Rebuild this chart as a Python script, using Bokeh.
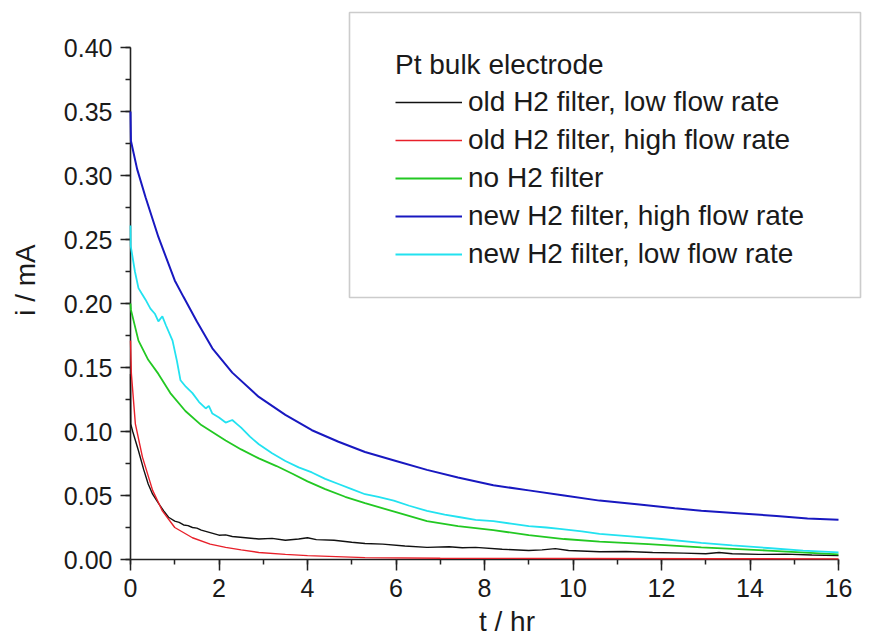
from bokeh.plotting import figure
from bokeh.models import (Legend, LegendItem, BoxAnnotation, SingleIntervalTicker,
                          NumeralTickFormatter, Range1d)
from bokeh.embed import file_html
from bokeh.resources import INLINE

# ---------------- data ----------------
t_black = [0, 0.005, 0.05, 0.18, 0.3, 0.4, 0.5, 0.63, 0.75, 0.86, 1.0, 1.1, 1.2, 1.3, 1.4, 1.5,
           1.6, 1.8, 2.0, 2.15, 2.3, 2.6, 2.9, 3.2, 3.5, 3.8, 4.0, 4.2, 4.6, 5.0, 5.3, 5.7, 6.2,
           6.7, 7.2, 7.5, 7.8, 8.4, 9.0, 9.3, 9.6, 9.9, 10.6, 11.2, 11.8, 12.5, 13.0, 13.3, 13.6,
           14.2, 14.8, 15.4, 16.0]
i_black = [0.145, 0.106, 0.100, 0.085, 0.070, 0.059, 0.051, 0.044, 0.038, 0.033, 0.030, 0.029,
           0.027, 0.0265, 0.025, 0.0245, 0.023, 0.021, 0.019, 0.0192, 0.018, 0.017, 0.016,
           0.0165, 0.015, 0.016, 0.017, 0.0155, 0.015, 0.0135, 0.0125, 0.012, 0.0105, 0.0095,
           0.010, 0.0092, 0.0095, 0.008, 0.007, 0.0075, 0.0085, 0.007, 0.006, 0.0062, 0.0055,
           0.005, 0.0045, 0.0055, 0.0045, 0.004, 0.0042, 0.0035, 0.003]

t_red = [0, 0.02, 0.11, 0.27, 0.5, 0.72, 1.0, 1.4, 1.8, 2.15, 2.5, 2.9, 3.5, 4.0, 5.3, 7.0,
         10.0, 13.0, 16.0]
i_red = [0.171, 0.145, 0.106, 0.080, 0.054, 0.038, 0.025, 0.017, 0.012, 0.0095, 0.0075, 0.0055,
         0.004, 0.003, 0.0015, 0.001, 0.0008, 0.0006, 0.0005]

t_green = [0, 0.01, 0.18, 0.4, 0.63, 0.9, 1.24, 1.6, 2.15, 2.5, 2.9, 3.3, 3.66, 4.0, 4.4, 4.85,
           5.3, 6.0, 6.7, 7.4, 8.2, 9.0, 9.8, 10.6, 11.7, 12.9, 14.4, 16.0]
i_green = [0.200, 0.195, 0.171, 0.156, 0.145, 0.130, 0.116, 0.105, 0.093, 0.086, 0.079, 0.073,
           0.067, 0.061, 0.055, 0.049, 0.044, 0.037, 0.030, 0.026, 0.023, 0.019, 0.016, 0.014,
           0.012, 0.0095, 0.007, 0.004]

t_blue = [0, 0.01, 0.15, 0.34, 0.63, 1.0, 1.2, 1.5, 1.85, 2.3, 2.9, 3.5, 4.1, 4.7, 5.3, 6.0,
          6.7, 7.4, 8.2, 9.0, 9.8, 10.6, 11.5, 12.3, 12.9, 13.8, 14.6, 15.3, 16.0]
i_blue = [0.350, 0.327, 0.305, 0.283, 0.252, 0.218, 0.205, 0.186, 0.165, 0.146, 0.127, 0.113,
          0.101, 0.092, 0.084, 0.077, 0.070, 0.064, 0.058, 0.054, 0.050, 0.046, 0.043, 0.040,
          0.038, 0.036, 0.034, 0.032, 0.031]

t_cyan = [0, 0.005, 0.1, 0.18, 0.25, 0.34, 0.45, 0.55, 0.63, 0.72, 0.8, 0.95, 1.05, 1.13, 1.25,
          1.4, 1.55, 1.7, 1.77, 1.85, 2.0, 2.15, 2.3, 2.4, 2.5, 2.7, 2.9, 3.2, 3.5, 3.8, 4.1,
          4.4, 4.7, 5.0, 5.3, 5.6, 5.95, 6.3, 6.7, 7.1, 7.45, 7.8, 8.2, 8.6, 9.0, 9.4, 9.7,
          10.2, 10.6, 11.3, 12.0, 12.9, 13.6, 14.4, 15.2, 16.0]
i_cyan = [0.261, 0.245, 0.225, 0.212, 0.208, 0.203, 0.196, 0.192, 0.186, 0.190, 0.183, 0.171,
          0.155, 0.140, 0.135, 0.130, 0.123, 0.118, 0.120, 0.114, 0.111, 0.107, 0.109, 0.106,
          0.103, 0.096, 0.090, 0.083, 0.077, 0.072, 0.068, 0.063, 0.059, 0.055, 0.051, 0.049,
          0.046, 0.042, 0.038, 0.035, 0.033, 0.031, 0.030, 0.028, 0.026, 0.025, 0.024, 0.022,
          0.020, 0.018, 0.016, 0.013, 0.011, 0.009, 0.007, 0.0055]

labels = ["old H2 filter, low flow rate", "old H2 filter, high flow rate", "no H2 filter",
          "new H2 filter, high flow rate", "new H2 filter, low flow rate"]
legend_title = "Pt bulk electrode"
x_label = "t / hr"
y_label = "i / mA"

# ---------------- layout ----------------
W, H = 883, 639
FRAME_L, FRAME_B = 130, 80          # canvas borders
PX_T = 44.25                         # pixels per hour
PX_I = 1280.0                        # pixels per mA
X_END = (W - FRAME_L) / PX_T
Y_END = (H - FRAME_B) / PX_I

FONT = "Liberation Sans"
TXT = "#1a1a1a"

p = figure(width=W, height=H, x_range=Range1d(0, X_END), y_range=Range1d(0, Y_END),
           output_backend="svg", toolbar_location=None,
           min_border_left=FRAME_L, min_border_right=0, min_border_top=0,
           min_border_bottom=FRAME_B)
p.outline_line_color = None
p.grid.visible = False
p.background_fill_color = "white"

series = [(t_black, i_black, "#111111", 1.4), (t_red, i_red, "#e8202a", 1.4),
          (t_green, i_green, "#22c822", 1.8), (t_blue, i_blue, "#1818c0", 2.0),
          (t_cyan, i_cyan, "#22e2f0", 1.8)]
rends = []
for t, i, c, w in series:
    r = p.line(t, i, line_color=c, line_width=w)
    r.level = "annotation"
    rends.append(r)

for ax in (p.xaxis[0], p.yaxis[0]):
    ax.axis_line_color = "#222222"
    ax.axis_line_width = 1.6
    ax.major_tick_line_color = "#222222"
    ax.minor_tick_line_color = "#222222"
    ax.major_tick_line_width = 1.5
    ax.minor_tick_line_width = 1.5
    ax.major_tick_in = 0
    ax.minor_tick_in = 0
    ax.major_label_text_font = FONT
    ax.major_label_text_font_size = "25px"
    ax.major_label_text_color = TXT
    ax.axis_label_text_font = FONT
    ax.axis_label_text_font_size = "28px"
    ax.axis_label_text_font_style = "normal"
    ax.axis_label_text_color = TXT

xa = p.xaxis[0]
xa.bounds = (0, 16)
xa.ticker = SingleIntervalTicker(interval=2, num_minor_ticks=2)
xa.formatter = NumeralTickFormatter(format="0")
xa.major_tick_out = 11
xa.minor_tick_out = 5
xa.major_label_standoff = 8
xa.axis_label = x_label
xa.axis_label_standoff = 6

ya = p.yaxis[0]
ya.bounds = (0, 0.4)
ya.ticker = SingleIntervalTicker(interval=0.05, num_minor_ticks=2)
ya.formatter = NumeralTickFormatter(format="0.00")
ya.major_tick_out = 10
ya.minor_tick_out = 5
ya.major_label_standoff = 8
ya.axis_label = y_label
ya.axis_label_standoff = 20

# image px -> data coordinates (for the legend frame, which lies partly outside the axes)
def dx(px):
    return (px - FRAME_L) / PX_T

def dy(py):
    return (H - FRAME_B - py) / PX_I

box = BoxAnnotation(left=dx(349), right=dx(860), top=dy(12), bottom=dy(297),
                    fill_alpha=0, line_color="#555555", line_width=1.6, level="annotation")
p.add_layout(box)

legend = Legend(items=[LegendItem(label=l, renderers=[r]) for l, r in zip(labels, rends)],
                title=legend_title, location=(395 - 130, 559 - 270),
                padding=0, margin=0, border_line_alpha=0, background_fill_alpha=0,
                glyph_width=67, glyph_height=20, label_standoff=6, spacing=6,
                title_standoff=5,
                label_text_font=FONT, label_text_font_size="28px", label_text_color=TXT,
                title_text_font=FONT, title_text_font_size="28px",
                title_text_font_style="normal", title_text_color=TXT)
p.add_layout(legend)

open("out.html", "w").write(file_html(p, INLINE))
